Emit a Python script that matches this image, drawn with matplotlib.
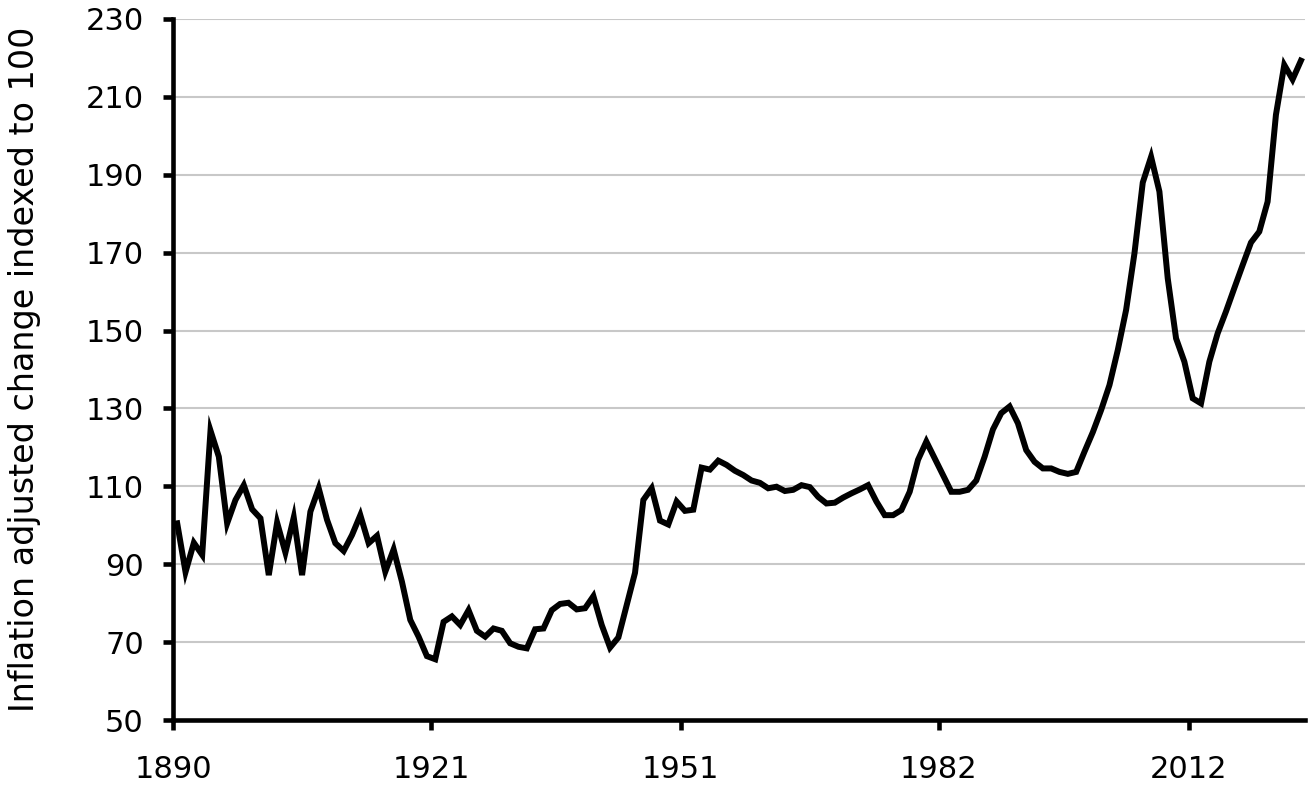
import numpy as np
import matplotlib
matplotlib.use("Agg")
from matplotlib import pyplot as plt

# annual index, 1890 = 100
years = list(range(1890, 2026))
index_values = [
    100.5, 88.0, 95.5, 92.4, 124.3, 117.6, 100.5, 106.5, 110.3, 104.1,
    101.8, 87.2, 100.7, 93.0, 102.0, 87.2, 103.5, 109.5, 101.4, 95.4,
    93.4, 97.5, 102.6, 95.4, 97.3, 88.1, 93.8, 85.5, 75.7, 71.4,
    66.4, 65.6, 75.2, 76.6, 74.4, 78.2, 72.9, 71.4, 73.5, 72.9,
    69.7, 68.8, 68.4, 73.3, 73.5, 78.2, 79.8, 80.1, 78.4, 78.7,
    81.8, 74.4, 68.6, 71.2, 79.5, 87.8, 106.5, 109.5, 101.2, 100.2,
    106.1, 103.7, 104.0, 114.8, 114.3, 116.6, 115.5, 114.0, 112.9, 111.5,
    110.9, 109.5, 109.9, 108.8, 109.1, 110.3, 109.8, 107.3, 105.6, 105.8,
    107.1, 108.2, 109.2, 110.3, 106.1, 102.6, 102.6, 103.9, 108.6, 116.8,
    121.5, 117.2, 112.9, 108.6, 108.6, 109.1, 111.5, 117.6, 124.6, 128.8,
    130.5, 126.2, 119.3, 116.3, 114.6, 114.6, 113.7, 113.2, 113.7, 118.9,
    123.9, 129.6, 136.0, 145.0, 155.3, 169.8, 188.0, 194.6, 185.7, 163.4,
    148.0, 142.0, 132.6, 131.3, 142.0, 149.3, 154.9, 160.9, 166.8, 172.6,
    175.4, 183.1, 205.4, 218.2, 214.5, 219.3,
]
x_tick_labels = ["1890", "1921", "1951", "1982", "2012"]
y_ticks = list(range(50, 231, 20))

plt.rcParams['font.family'] = ['DejaVu Sans']

fig = plt.figure(figsize=(13.09, 7.85), dpi=100)
ax = fig.add_axes([0.1322, 0.0828, 0.8648, 0.893])

ax.plot(years, index_values, color="black", lw=4.3, solid_joinstyle="miter", zorder=3)

ax.set_xlim(1889.5, 2025.5)
ax.set_ylim(50, 230)
ax.set_yticks(y_ticks)
ax.set_xticks([int(t) - 0.5 for t in x_tick_labels])
ax.set_xticklabels(x_tick_labels)

ax.yaxis.grid(True, color="#c8c8c8", lw=1.5)
ax.set_axisbelow(True)
for side in ["top", "right"]:
    ax.spines[side].set_visible(False)
for side in ["left", "bottom"]:
    ax.spines[side].set_linewidth(3.3)
ax.tick_params(axis="both", width=3.3, length=7, labelsize=22, colors="black")
ax.tick_params(axis="y", pad=14)
ax.tick_params(axis="x", pad=18)

ax.set_ylabel("Inflation adjusted change indexed to 100", fontsize=24, labelpad=32)

fig.savefig("out.png", dpi=100)
